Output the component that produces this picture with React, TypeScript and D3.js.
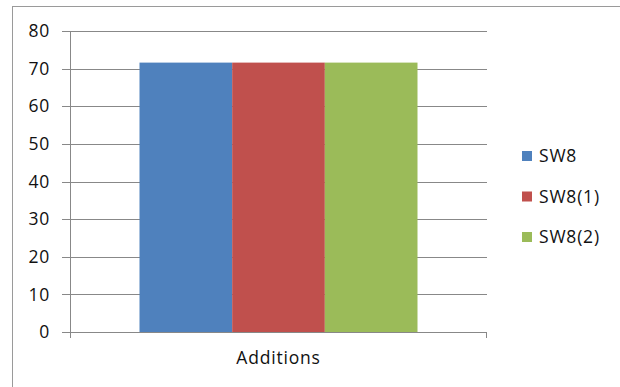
import React from "react";
import * as d3 from "d3";

const categories = ["Additions"];
const seriesNames = ["SW8", "SW8(1)", "SW8(2)"];
const seriesValues = [71.6, 71.6, 71.6];
const seriesColors = ["#4F81BD", "#C0504D", "#9BBB59"];
const yTicks = [0, 10, 20, 30, 40, 50, 60, 70, 80];

export default function App() {
  const W = 620, H = 387;
  const left = 70, right = 487, top = 31, bottom = 332;
  const y = d3.scaleLinear().domain([0, 80]).range([bottom, top]);
  const x0 = d3.scaleBand().domain(categories).range([left, right]).paddingInner(0).paddingOuter(0.25);
  const x1 = d3.scaleBand().domain(seriesNames).range([0, x0.bandwidth()]).padding(0);
  const font = "'Open Sans', 'Liberation Sans', sans-serif";
  const fs = 17.5;
  const ls = 0.8;
  return (
    <svg width={W} height={H} style={{ position: "absolute", left: 0, top: 0, background: "#fff" }}>
      <rect x={12.5} y={6.5} width={W + 20} height={H + 20} fill="#fff" stroke="#9a9a9a" strokeWidth={1} />
      {yTicks.map((t) => (
        <g key={t}>
          <line x1={left - 8} x2={right} y1={Math.round(y(t)) + 0.5} y2={Math.round(y(t)) + 0.5} stroke="#888" strokeWidth={1} />
          <text x={50} y={y(t)} dy="0.35em" textAnchor="end" fontFamily={font} fontSize={fs} letterSpacing={ls} fill="#111">{t}</text>
        </g>
      ))}
      {categories.map((c) =>
        seriesNames.map((s, i) => (
          <rect key={c + s} x={x0(c)! + x1(s)!} y={y(seriesValues[i])} width={x1.bandwidth()} height={y(0) - y(seriesValues[i])} fill={seriesColors[i]} />
        ))
      )}
      <line x1={left + 0.5} x2={left + 0.5} y1={top} y2={bottom + 6} stroke="#888" strokeWidth={1} />
      <line x1={left} x2={right} y1={Math.round(y(0)) + 0.5} y2={Math.round(y(0)) + 0.5} stroke="#888" strokeWidth={1} />
      <line x1={right - 0.5} x2={right - 0.5} y1={bottom} y2={bottom + 6} stroke="#888" strokeWidth={1} />
      {categories.map((c) => (
        <text key={c} x={x0(c)! + x0.bandwidth() / 2} y={358} dy="0.35em" textAnchor="middle" fontFamily={font} fontSize={fs} letterSpacing={ls} fill="#111">{c}</text>
      ))}
      {seriesNames.map((s, i) => (
        <g key={s} transform={`translate(522, ${156 + i * 40.5})`}>
          <rect x={0} y={-5} width={10} height={10} fill={seriesColors[i]} />
          <text x={17} y={0} dy="0.35em" fontFamily={font} fontSize={fs} letterSpacing={ls} fill="#111">{s}</text>
        </g>
      ))}
    </svg>
  );
}
